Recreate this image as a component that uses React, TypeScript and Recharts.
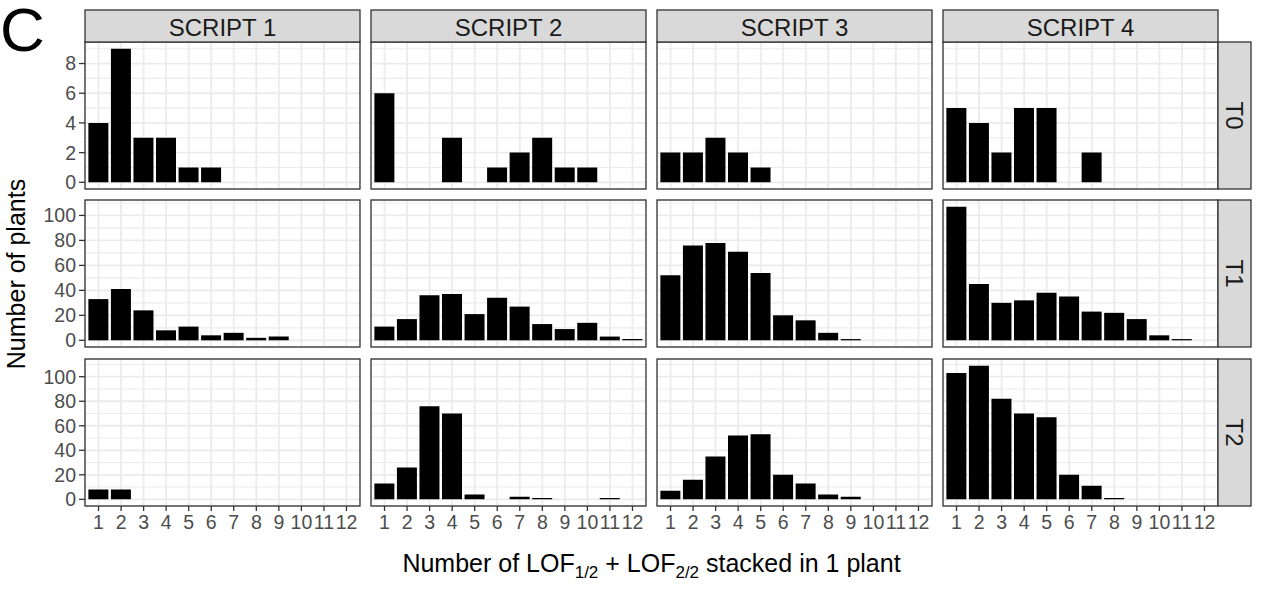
import React from 'react';
import { BarChart, Bar, XAxis, YAxis, CartesianGrid } from 'recharts';

// ---------- data ----------
const categories = ['1', '2', '3', '4', '5', '6', '7', '8', '9', '10', '11', '12'];
const scripts = ['SCRIPT 1', 'SCRIPT 2', 'SCRIPT 3', 'SCRIPT 4'];
const generations = ['T0', 'T1', 'T2'];

const t0Script1 = [4, 9, 3, 3, 1, 1, 0, 0, 0, 0, 0, 0];
const t0Script2 = [6, 0, 0, 3, 0, 1, 2, 3, 1, 1, 0, 0];
const t0Script3 = [2, 2, 3, 2, 1, 0, 0, 0, 0, 0, 0, 0];
const t0Script4 = [5, 4, 2, 5, 5, 0, 2, 0, 0, 0, 0, 0];

const t1Script1 = [33, 41, 24, 8, 11, 4, 6, 2, 3, 0, 0, 0];
const t1Script2 = [11, 17, 36, 37, 21, 34, 27, 13, 9, 14, 3, 1];
const t1Script3 = [52, 76, 78, 71, 54, 20, 16, 6, 1, 0, 0, 0];
const t1Script4 = [107, 45, 30, 32, 38, 35, 23, 22, 17, 4, 1, 0];

const t2Script1 = [8, 8, 0, 0, 0, 0, 0, 0, 0, 0, 0, 0];
const t2Script2 = [13, 26, 76, 70, 4, 0, 2, 1, 0, 0, 1, 0];
const t2Script3 = [7, 16, 35, 52, 53, 20, 13, 4, 2, 0, 0, 0];
const t2Script4 = [103, 109, 82, 70, 67, 20, 11, 1, 0, 0, 0, 0];

const t0Ticks = [0, 2, 4, 6, 8];
const t0Minor = [1, 3, 5, 7, 9];
const t12Ticks = [0, 20, 40, 60, 80, 100];
const t12Minor = [10, 30, 50, 70, 90, 110];

const rowsValues = [
  [t0Script1, t0Script2, t0Script3, t0Script4],
  [t1Script1, t1Script2, t1Script3, t1Script4],
  [t2Script1, t2Script2, t2Script3, t2Script4],
];
const rowsTicks = [t0Ticks, t12Ticks, t12Ticks];
const rowsMinor = [t0Minor, t12Minor, t12Minor];

// ---------- layout ----------
const PANEL_W = 275;
const PANEL_H = 147;
const COL_LEFT = [85, 371, 657, 943];
const ROW_TOP = [42, 200, 359];
const STRIP_TOP_Y = 10;
const STRIP_TOP_H = 32;
const STRIP_RIGHT_W = 33;
const PAD = 14;
const FONT = "'Liberation Sans', Arial, Helvetica, sans-serif";
const BORDER = '#333333';
const GRID = '#EBEBEB';
const TICK_TEXT = '#4D4D4D';
const TICK_FONT = 19.5;
const STRIP_FONT = 24;
const TITLE_FONT = 25;

const EmptyTick = () => <g />;

function Panel({ r, c }: { r: number; c: number }) {
  const values = rowsValues[r][c];
  const data = categories.map((n, i) => ({ n, v: values[i] }));
  const rowMax = Math.max(...rowsValues[r].flat());
  const domain = [-0.05 * rowMax, 1.05 * rowMax];
  const yW = c === 0 ? 70 : 0;
  const xH = r === 2 ? 36 : 0;
  const minor = rowsMinor[r].filter((m) => m <= domain[1]);
  const tickStyle = { fill: TICK_TEXT, fontSize: TICK_FONT, fontFamily: FONT };
  return (
    <div style={{ position: 'absolute', left: COL_LEFT[c] - yW, top: ROW_TOP[r] - PAD }}>
      <BarChart
        width={PANEL_W + yW}
        height={PANEL_H + 2 * PAD + xH}
        data={data}
        margin={{ top: PAD, right: 0, bottom: PAD, left: 0 }}
        barCategoryGap="5%"
      >
        <CartesianGrid
          stroke={GRID}
          strokeWidth={1.1}
          vertical={false}
          horizontalValues={minor}
        />
        <CartesianGrid stroke={GRID} strokeWidth={1.8} />
        <XAxis
          dataKey="n"
          type="category"
          interval={0}
          padding={{ left: 2.25, right: 2.25 }}
          height={xH}
          axisLine={false}
          tick={r === 2 ? tickStyle : EmptyTick}
          tickLine={r === 2 ? { stroke: BORDER, strokeWidth: 1.3 } : false}
          tickSize={5}
          tickMargin={4}
        />
        <YAxis
          type="number"
          domain={domain}
          allowDataOverflow
          ticks={rowsTicks[r]}
          interval={0}
          width={yW}
          axisLine={false}
          tick={c === 0 ? tickStyle : EmptyTick}
          tickLine={c === 0 ? { stroke: BORDER, strokeWidth: 1.3 } : false}
          tickSize={6}
          tickMargin={3}
        />
        <Bar dataKey="v" fill="#000000" isAnimationActive={false} />
      </BarChart>
    </div>
  );
}

export default function App() {
  const panels = [];
  for (let r = 0; r < 3; r++) {
    for (let c = 0; c < 4; c++) {
      panels.push(<Panel key={`${r}-${c}`} r={r} c={c} />);
    }
  }
  const xTitleCenter = (COL_LEFT[0] + COL_LEFT[3] + PANEL_W) / 2;
  const yTitleCenter = (ROW_TOP[0] + ROW_TOP[2] + PANEL_H) / 2;
  return (
    <div
      style={{
        position: 'absolute',
        left: 0,
        top: 0,
        width: 1261,
        height: 603,
        background: '#ffffff',
        fontFamily: FONT,
        overflow: 'hidden',
      }}
    >
      {panels}
      <svg
        width={1261}
        height={603}
        style={{ position: 'absolute', left: 0, top: 0, pointerEvents: 'none' }}
      >
        {/* panel borders */}
        {ROW_TOP.map((top, r) =>
          COL_LEFT.map((left, c) => (
            <rect
              key={`b-${r}-${c}`}
              x={left}
              y={top}
              width={PANEL_W}
              height={PANEL_H}
              fill="none"
              stroke={BORDER}
              strokeWidth={1.3}
            />
          ))
        )}
        {/* top strips */}
        {scripts.map((s, c) => (
          <g key={s}>
            <rect
              x={COL_LEFT[c]}
              y={STRIP_TOP_Y}
              width={PANEL_W}
              height={STRIP_TOP_H}
              fill="#D9D9D9"
              stroke={BORDER}
              strokeWidth={1.3}
            />
            <text
              x={COL_LEFT[c] + PANEL_W / 2}
              y={STRIP_TOP_Y + STRIP_TOP_H / 2 + 1}
              textAnchor="middle"
              dominantBaseline="central"
              fontSize={STRIP_FONT}
              fill="#1A1A1A"
              fontFamily={FONT}
            >
              {s}
            </text>
          </g>
        ))}
        {/* right strips */}
        {generations.map((g, r) => {
          const x = COL_LEFT[3] + PANEL_W;
          const cx = x + STRIP_RIGHT_W / 2;
          const cy = ROW_TOP[r] + PANEL_H / 2;
          return (
            <g key={g}>
              <rect
                x={x}
                y={ROW_TOP[r]}
                width={STRIP_RIGHT_W}
                height={PANEL_H}
                fill="#D9D9D9"
                stroke={BORDER}
                strokeWidth={1.3}
              />
              <text
                x={cx}
                y={cy}
                textAnchor="middle"
                dominantBaseline="central"
                fontSize={STRIP_FONT}
                fill="#1A1A1A"
                fontFamily={FONT}
                transform={`rotate(90 ${cx} ${cy})`}
              >
                {g}
              </text>
            </g>
          );
        })}
        {/* panel letter */}
        <text x={0} y={51} fontSize={62} fill="#000" fontFamily={FONT}>
          C
        </text>
        {/* y title */}
        <text
          x={16}
          y={yTitleCenter}
          textAnchor="middle"
          dominantBaseline="central"
          fontSize={TITLE_FONT}
          fill="#000"
          fontFamily={FONT}
          transform={`rotate(-90 16 ${yTitleCenter})`}
        >
          Number of plants
        </text>
        {/* x title */}
        <text
          x={xTitleCenter}
          y={572}
          textAnchor="middle"
          fontSize={TITLE_FONT}
          fill="#000"
          fontFamily={FONT}
        >
          <tspan>Number of LOF</tspan>
          <tspan fontSize={17} dy={6}>1/2</tspan>
          <tspan dy={-6}> + LOF</tspan>
          <tspan fontSize={17} dy={6}>2/2</tspan>
          <tspan dy={-6}> stacked in 1 plant</tspan>
        </text>
      </svg>
    </div>
  );
}
